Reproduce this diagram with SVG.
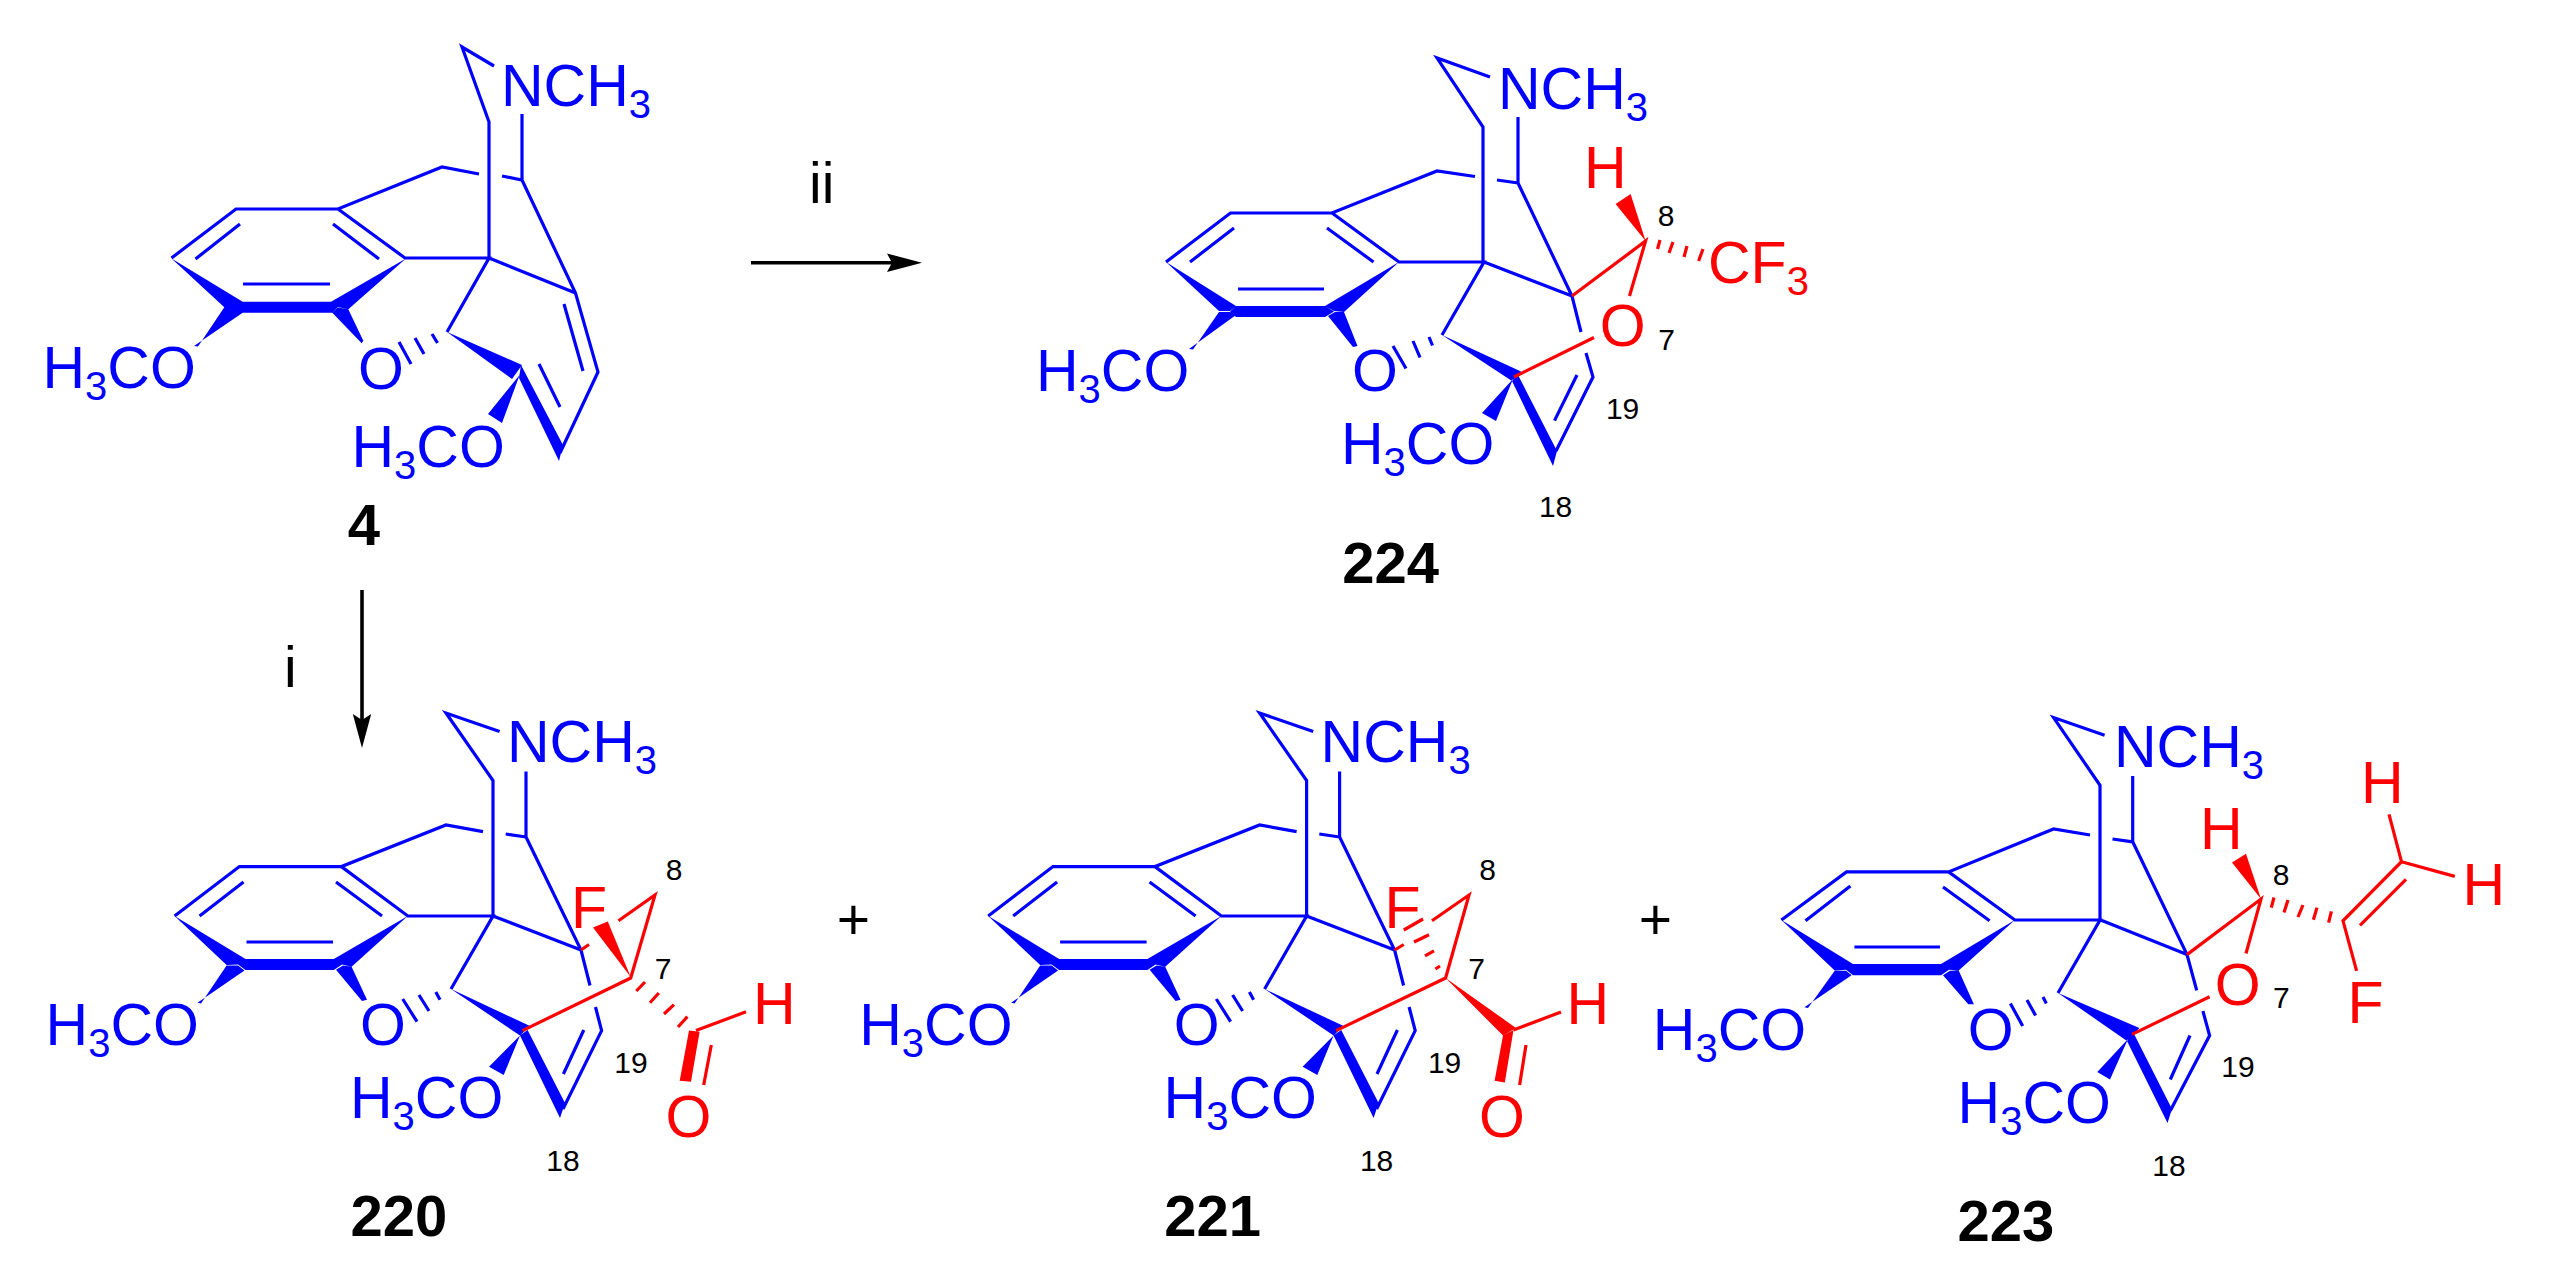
<svg xmlns="http://www.w3.org/2000/svg" width="2556" height="1281" viewBox="0 0 2556 1281">
<style>
text{font-family:"Liberation Sans",Arial,sans-serif}
.a{font-size:59px}
.s{font-size:40px}
.n{font-size:30px;fill:#000;text-anchor:middle}
.c{font-size:58px;font-weight:bold;fill:#000;text-anchor:middle}
.k{font-size:57px;fill:#000}
.m{text-anchor:middle}
.tb{fill:#00f}
.tr{fill:#f00}
.lb{fill:none;stroke:#00f;stroke-width:3.2}
.lr{fill:none;stroke:#f00;stroke-width:3.2}
.fb{fill:#00f}
.fr{fill:#f00}
.ar{fill:none;stroke:#000;stroke-width:3.6}
</style>
<rect width="2556" height="1281" fill="#fff"/>

<g id="connectors">
<path class="ar" d="M751 262.7H892"/>
<path d="M922 262.7L887 253.5L892 262.7L887 272Z"/>
<path class="ar" d="M362 590V720"/>
<path d="M362 748L352.8 714L362 720L371.2 714Z"/>
<text class="k" x="809" y="203">ii</text>
<text class="k" x="284" y="687">i</text>
<text class="k m" x="853.5" y="939">+</text>
<text class="k m" x="1655.5" y="939">+</text>
</g>

<g id="mol-4">
<path class="lb" d="M494 66L462 47L489 122V258M522 114V180L502 176M479 174L442 167L338 209H236L171.500 258M338 209L405 258H489L447 332M489 258L575.500 293M522 180L575.500 293L598 372L560 453M333 224L379 259M240 224L195.500 259M243 284H330M564 304L583 371M539 364L560 407M399 342L411 364M415 338L424 354M432 334L437.500 343"/>
<path class="fb" d="M171.500 258.500L224.300 307.300L236.700 307.300L242.700 301.700ZM242.700 301.700H331L337.700 307L332.300 312.700H242.700L236.700 307.300ZM406 258.500L331 301.700L337.700 307L348.300 309.300ZM194 346L198 346.500L224.300 307.300H236.700L242.700 312.700ZM361.700 343.300L363.300 340.700L348.300 309.300L337.700 307.500L332.300 312.700ZM447 332L522 365L512 379ZM521 365L563 445L559 461L519 378ZM488 414L502 423L519.600 375Z"/>
<text class="a tb" x="501" y="106">NCH<tspan class="s" dy="12">3</tspan></text>
<text class="a tb" x="42.500" y="388">H<tspan class="s" dy="12">3</tspan><tspan dy="-12">CO</tspan></text>
<text class="a tb m" x="381" y="388.500">O</text>
<text class="a tb" x="351.500" y="467">H<tspan class="s" dy="12">3</tspan><tspan dy="-12">CO</tspan></text>
<text class="c" x="364" y="545">4</text>
</g>

<g id="mol-224">
<path class="lb" d="M1490 77L1437 58L1483 127V262M1518 117V183L1497 180M1475 176.500L1437 171L1332 213H1230.500L1166 262M1332 213L1399 262H1484L1442 335M1484 262L1572 296M1518 183L1572 296L1581 332M1586 353L1593 377L1556 451M1327 228L1373.500 262M1234 228L1190 262M1238 289H1324M1577 375L1554.500 420.600M1393 346L1406 368.500M1413 341L1420 357.500M1429 337L1432.500 345.500"/>
<path class="fb" d="M1166 262L1219 311L1230 311L1236 306ZM1236 306H1325L1334 311.500L1325 317H1236L1230 311.500ZM1399 262L1325 306L1334 311L1344 312ZM1189 349L1193 349.500L1219 312H1230L1236 315ZM1357.500 346L1353 347L1328 316L1335 312L1344 312ZM1442 335L1521 371.500L1512 381ZM1518 375L1557 451L1553 466L1512 381ZM1482 413L1496 421L1513 379Z"/>
<path class="lr" d="M1572 296L1645.600 241L1629.500 296M1594 337.500L1514 377M1660 240L1657.500 249M1673 242L1669 253M1687 246L1684 257M1703 249L1698.600 261"/>
<path class="fr" d="M1645.600 241L1615.600 204L1630.600 194Z"/>
<text class="a tb" x="1498" y="109">NCH<tspan class="s" dy="12">3</tspan></text>
<text class="a tb" x="1036" y="391">H<tspan class="s" dy="12">3</tspan><tspan dy="-12">CO</tspan></text>
<text class="a tb m" x="1375" y="391">O</text>
<text class="a tb" x="1341" y="464">H<tspan class="s" dy="12">3</tspan><tspan dy="-12">CO</tspan></text>
<text class="a tr" x="1584" y="188">H</text>
<text class="a tr m" x="1622.600" y="346">O</text>
<text class="a tr" x="1708" y="283">CF<tspan class="s" dy="12">3</tspan></text>
<text class="n" x="1666" y="226">8</text>
<text class="n" x="1666.500" y="350">7</text>
<text class="n" x="1622.600" y="419">19</text>
<text class="n" x="1555.600" y="517">18</text>
<text class="c" x="1390.600" y="583">224</text>
</g>

<g id="mol-220">
<path class="lb" d="M499.600 731.500L446 713L493 780.500V916M526 771.400V837L505.700 834M483 831.600L446 825L341.400 866.600H239.400L174.600 916M341.400 866.600L407.800 916H493L451 989M493 916L581 950M526 837L581 950L590 985.500M595.500 1007L601.600 1030.600L563 1109M336 882L382 916M243.500 882L199.600 916M246.500 942H333M583.800 1030L563.400 1074M402.700 999L417 1021.600M419 995L429 1011M435.800 992L440 999.800"/>
<path class="fb" d="M174.600 916L226.600 965L238 964.500L245.500 959ZM245.500 959H333.800L342 964.500L333.800 970H245.500L238 964.500ZM407.800 916L333.800 959L342 964.500L351.600 966.700ZM197.500 1002.800L201 1003.500L226.600 965.500H238L244.500 970.400ZM367 999.800L362 1001L336 969.700L343 965.500L351.600 966.700ZM451 989L530 1026L520 1035.500ZM527.600 1030L565 1103L560 1118L520 1035.500ZM489 1066.800L503.700 1075L520 1035.500Z"/>
<path class="lr" d="M522.500 1030.600L630.700 978L655 895L618.500 920.800M589 944.500L581 950M645 982L636.300 991M658.800 993L650 1002.800M674 1004.700L664 1014M687.400 1016.700L678 1027M696 1030.600L746 1011.800M711.300 1045L703.700 1085"/>
<path class="fr" d="M630.700 977L593 927.500L607.800 921.500ZM689 1030.600L699.600 1031.800L691 1081.800L679.700 1080.700Z"/>
<text class="a tb" x="507" y="762">NCH<tspan class="s" dy="12">3</tspan></text>
<text class="a tb" x="45.600" y="1045">H<tspan class="s" dy="12">3</tspan><tspan dy="-12">CO</tspan></text>
<text class="a tb m" x="383" y="1045">O</text>
<text class="a tb" x="350" y="1118">H<tspan class="s" dy="12">3</tspan><tspan dy="-12">CO</tspan></text>
<text class="a tr" x="571" y="928">F</text>
<text class="a tr" x="753" y="1024">H</text>
<text class="a tr m" x="688.400" y="1136.500">O</text>
<text class="n" x="674" y="880">8</text>
<text class="n" x="663" y="979">7</text>
<text class="n" x="631" y="1073">19</text>
<text class="n" x="563" y="1171">18</text>
<text class="c" x="399" y="1236">220</text>
</g>

<g id="mol-221">
<g transform="translate(813.600 0)">
<path class="lb" d="M499.600 731.500L446 713L493 780.500V916M526 771.400V837L505.700 834M483 831.600L446 825L341.400 866.600H239.400L174.600 916M341.400 866.600L407.800 916H493L451 989M493 916L581 950M526 837L581 950L590 985.500M595.500 1007L601.600 1030.600L563 1109M336 882L382 916M243.500 882L199.600 916M246.500 942H333M583.800 1030L563.400 1074M402.700 999L417 1021.600M419 995L429 1011M435.800 992L440 999.800"/>
<path class="fb" d="M174.600 916L226.600 965L238 964.500L245.500 959ZM245.500 959H333.800L342 964.500L333.800 970H245.500L238 964.500ZM407.800 916L333.800 959L342 964.500L351.600 966.700ZM197.500 1002.800L201 1003.500L226.600 965.500H238L244.500 970.400ZM367 999.800L362 1001L336 969.700L343 965.500L351.600 966.700ZM451 989L530 1026L520 1035.500ZM527.600 1030L565 1103L560 1118L520 1035.500ZM489 1066.800L503.700 1075L520 1035.500Z"/>
<text class="a tb" x="507" y="762">NCH<tspan class="s" dy="12">3</tspan></text>
<text class="a tb" x="45.600" y="1045">H<tspan class="s" dy="12">3</tspan><tspan dy="-12">CO</tspan></text>
<text class="a tb m" x="383" y="1045">O</text>
<text class="a tb" x="350" y="1118">H<tspan class="s" dy="12">3</tspan><tspan dy="-12">CO</tspan></text>
</g>
<path class="lr" d="M1336.100 1030.600L1445.600 978L1469 895L1432 920.800M1403.800 944.500L1394.600 950M1513.500 1030L1561 1012M1526 1045L1519.600 1085M1435.400 969L1440 966M1425 955.800L1434 950.900M1414 942L1429 934.700M1403.800 930L1423 919"/>
<path class="fr" d="M1445.600 978L1516 1028L1503 1035.500ZM1503 1035.500L1513.500 1030L1504.800 1082.500L1494.600 1080.700Z"/>
<text class="a tr" x="1384.600" y="928">F</text>
<text class="a tr" x="1566.600" y="1024">H</text>
<text class="a tr m" x="1502" y="1136.500">O</text>
<text class="n" x="1487.600" y="880">8</text>
<text class="n" x="1476.600" y="979">7</text>
<text class="n" x="1444.600" y="1073">19</text>
<text class="n" x="1376.600" y="1171">18</text>
<text class="c" x="1212.600" y="1236">221</text>
</g>

<g id="mol-223">
<path class="lb" d="M2104.600 735.300L2053.600 717.600L2100 785.300V919.700M2132.700 776V841.800L2112.500 839M2090 835L2053.600 829L1948.600 871.900H1846.500L1781.400 920M1948.600 871.900L2014.900 920H2100L2058 993M2100 919.700L2187 954.600M2132.700 841.800L2187 954.600L2196.700 990.400M2202.900 1011L2209.600 1035.500L2170.300 1110.800M1943 887L1989.600 920.800M1850.400 886L1805.500 920.800M1854.400 947H1940M2190 1035.500L2170.300 1079.500M2010.400 1003.500L2022.700 1026M2027 1000L2035.600 1015.600M2043 997L2046.300 1003.500"/>
<path class="fb" d="M1781.400 920L1834.700 970.400L1846 969.700L1853 964ZM1853 964H1941L1949 969.700L1941 975.300H1853L1846 969.700ZM2014.900 920L1941 964L1949 969.700L1958.700 970.400ZM1804.400 1007.300L1808 1008L1834.700 970.700H1846L1851.600 975.300ZM1973.900 1004.300L1968.300 1004.300L1943 975.300L1950 970.700L1958.700 970.400ZM2058 993L2139.400 1028L2127 1041ZM2133.800 1033.600L2172 1109L2167.500 1123L2127 1041ZM2097.300 1072L2110 1079.500L2128 1039Z"/>
<path class="lr" d="M2187 954.600L2261 899L2246 953.500M2209.600 996.800L2132 1034.400M2274 897.500L2271.300 907.600M2288 900L2284 912.500M2303 905L2298 917M2317 907.600L2313.400 919.700M2331.400 911.400L2328.600 922.700M2356.600 970.800L2343 920.800L2401.500 861.700L2389 814.300M2401.500 861.700L2454.800 876.400M2406 879.400L2360 925.300"/>
<path class="fr" d="M2261 899L2232 862.500L2246 853.800Z"/>
<text class="a tb" x="2114" y="767">NCH<tspan class="s" dy="12">3</tspan></text>
<text class="a tb" x="1652.800" y="1049.800">H<tspan class="s" dy="12">3</tspan><tspan dy="-12">CO</tspan></text>
<text class="a tb m" x="1990.700" y="1049.800">O</text>
<text class="a tb" x="1957.600" y="1123">H<tspan class="s" dy="12">3</tspan><tspan dy="-12">CO</tspan></text>
<text class="a tr" x="2200" y="849.300">H</text>
<text class="a tr m" x="2237.600" y="1005">O</text>
<text class="a tr" x="2361" y="803.400">H</text>
<text class="a tr" x="2462.600" y="905">H</text>
<text class="a tr" x="2347.600" y="1023">F</text>
<text class="n" x="2281" y="885">8</text>
<text class="n" x="2281.400" y="1008">7</text>
<text class="n" x="2238" y="1077">19</text>
<text class="n" x="2169" y="1176">18</text>
<text class="c" x="2006" y="1241">223</text>
</g>
</svg>
